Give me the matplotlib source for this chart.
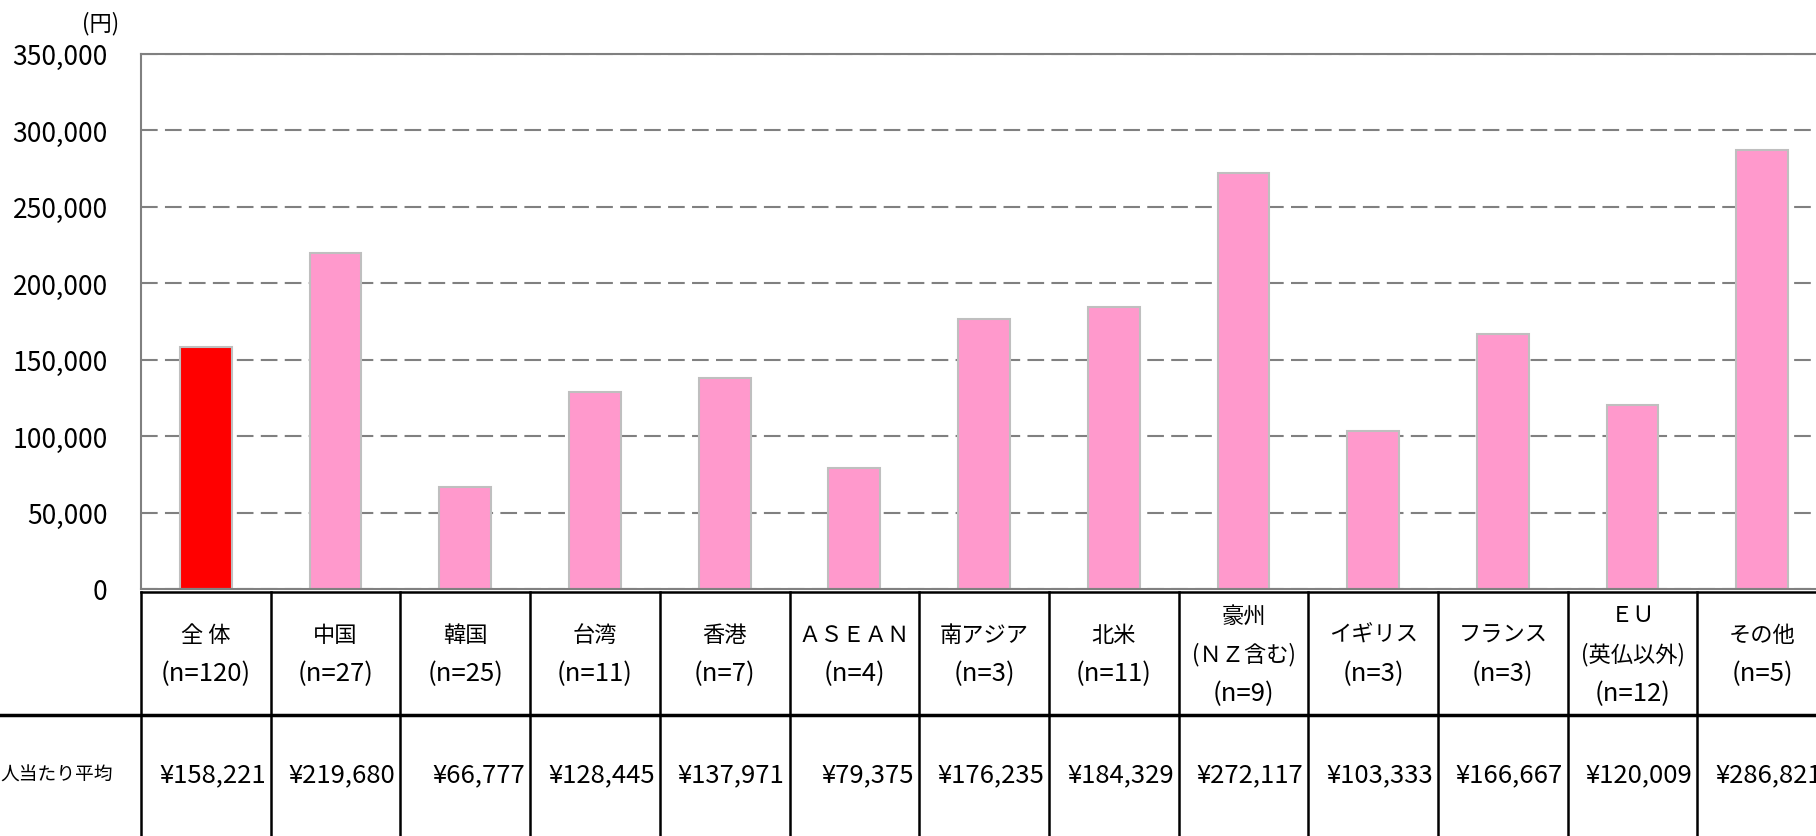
import numpy as np
import matplotlib
matplotlib.use("Agg")
import matplotlib.pyplot as plt
from matplotlib.ticker import FuncFormatter
import matplotlib.transforms as mtransforms

plt.rcParams['font.family'] = ['Noto Sans CJK JP', 'DejaVu Sans']

# data
categories = ["全 体", "中国", "韓国", "台湾", "香港", "ＡＳＥＡＮ", "南アジア", "北米",
              "豪州\n(ＮＺ含む)", "イギリス", "フランス", "ＥＵ\n(英仏以外)", "その他"]
n_counts = [120, 27, 25, 11, 7, 4, 3, 11, 9, 3, 3, 12, 5]
avg_yen = [158221, 219680, 66777, 128445, 137971, 79375, 176235, 184329,
           272117, 103333, 166667, 120009, 286821]
row_label = "人当たり平均"

W, H = 1816, 837
fig = plt.figure(figsize=(W / 100, H / 100), dpi=100)

ax_left, ax_right = 141, 141 + 13 * 129.7
ax_top, ax_bot = 54.5, 590
ax = fig.add_axes([ax_left / W, 1 - ax_bot / H, (ax_right - ax_left) / W, (ax_bot - ax_top) / H])

x = np.arange(len(categories))
colors = ["#FF0000"] + ["#FF99CC"] * (len(categories) - 1)
ax.bar(x, avg_yen, width=0.40, color=colors, edgecolor="#BFBFBF", linewidth=1.5, zorder=3)

ax.set_xlim(-0.5, len(categories) - 0.5)
ax.set_ylim(0, 350000)
ax.set_yticks(np.arange(0, 350001, 50000))
ax.yaxis.set_major_formatter(FuncFormatter(lambda v, p: f"{int(v):,}"))
ax.tick_params(axis='y', length=0, pad=24, labelsize=19)
ax.set_xticks([])
ax.yaxis.grid(True, linestyle=(0, (8, 3.5)), color="#808080", linewidth=1.5, zorder=0)
ax.spines["right"].set_visible(False)
for s in ["left", "bottom", "top"]:
    ax.spines[s].set_color("#808080")
    ax.spines[s].set_linewidth(1.5)
    ax.spines[s].set_zorder(4)

fig.text(101 / W, 1 - 24 / H, "(円)", ha="center", va="center", fontsize=16)

# table below the chart
trans = mtransforms.blended_transform_factory(ax.transData, fig.transFigure)
fy = lambda ypix: 1 - ypix / H
t_top, t_mid, t_bot = 593, 716, 840

ax.plot([-0.5, len(categories) + 0.5], [fy(t_top)] * 2, color="black", lw=1.8,
        transform=trans, clip_on=False)
fig.add_artist(plt.Line2D([0, 1], [fy(t_mid)] * 2, color="black", lw=2.5, transform=fig.transFigure))
for i in range(len(categories) + 1):
    ax.plot([i - 0.5] * 2, [fy(t_top), fy(t_bot)], color="black", lw=1.8,
            transform=trans, clip_on=False)

col_px = 129.7
pad = 5 / col_px
pitch = 39
for i, (cat, n, v) in enumerate(zip(categories, n_counts, avg_yen)):
    lines = cat.split("\n") + [f"(n={n})"]
    k = len(lines)
    c = 655
    for j, line in enumerate(lines):
        ypix = c - (k - 1) / 2 * pitch + j * pitch
        fs = 18.5 if line.startswith("(n=") else 16
        ax.text(i, fy(ypix), line, ha="center", va="center", fontsize=fs,
                transform=trans, clip_on=False)
    ax.text(i + 0.5 - pad, fy(775), f"¥{v:,}", ha="right", va="center", fontsize=18.5,
            transform=trans, clip_on=False)

fig.text(0 / W, fy(775), row_label, ha="left", va="center", fontsize=13.5)

fig.savefig("out.png", dpi=100)
